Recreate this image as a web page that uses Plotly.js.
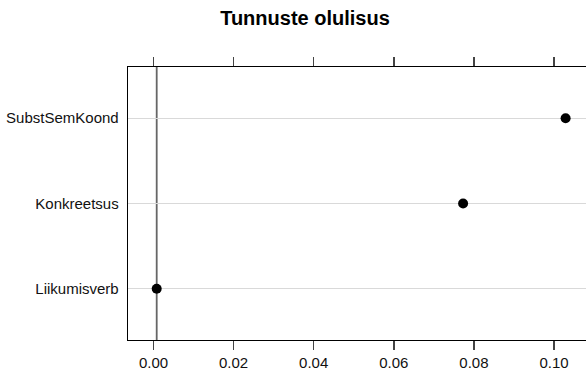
<!DOCTYPE html>
<html>
<head>
<meta charset="utf-8">
<script src="https://cdn.plot.ly/plotly-3.0.1.min.js"></script>
<style>html,body{margin:0;padding:0;overflow:hidden;background:#fff}</style>
</head>
<body>
<div id="chart" style="width:586px;height:371px"></div>
<script>
// Data (variable importance)
const features = ["Liikumisverb", "Konkreetsus", "SubstSemKoond"];
const importance = [0.0008, 0.0773, 0.1029];
const xTickVals = [0, 0.02, 0.04, 0.06, 0.08, 0.10];
const xTickText = ["0.00", "0.02", "0.04", "0.06", "0.08", "0.10"];
const chartTitle = "Tunnuste olulisus";

const FONT = '"Liberation Sans", Arial, Helvetica, sans-serif';

const trace = {
  type: "scatter",
  mode: "markers",
  x: importance,
  y: features,
  marker: {color: "#000", size: 10},
  hoverinfo: "x+y",
  cliponaxis: false
};

const layout = {
  width: 586, height: 371,
  margin: {l: 128, r: 0, t: 67, b: 31, pad: 0},
  paper_bgcolor: "#fff", plot_bgcolor: "#fff",
  showlegend: false,
  font: {family: FONT, color: "#111", size: 15},
  title: {
    text: "<b>" + chartTitle + "</b>",
    font: {family: FONT, size: 20, color: "#000"},
    x: 305 / 586, xref: "container", xanchor: "center",
    y: 1 - 17.5 / 371, yref: "container", yanchor: "middle"
  },
  xaxis: {
    range: [-0.006367, 0.10799],
    tickvals: xTickVals, ticktext: xTickText,
    ticks: "outside", ticklen: 9, tickwidth: 1.5, tickcolor: "#444",
    showline: true, linecolor: "#000", linewidth: 1.3,
    mirror: "ticks",
    showgrid: false, zeroline: false,
    tickfont: {family: FONT, size: 15, color: "#111"}
  },
  yaxis: {
    type: "category",
    categoryorder: "array", categoryarray: features,
    range: [-0.6, 2.6],
    showline: true, linecolor: "#000", linewidth: 1.3, mirror: false,
    ticks: "outside", ticklen: 5, tickcolor: "rgba(0,0,0,0)",
    showgrid: true, gridcolor: "#d9d9d9", gridwidth: 1,
    zeroline: false,
    tickfont: {family: FONT, size: 15, color: "#111"}
  },
  shapes: [{
    type: "line", xref: "x", yref: "paper",
    x0: Math.min(...importance), x1: Math.min(...importance), y0: 0, y1: 1,
    line: {color: "#666", width: 1.8},
    layer: "below"
  }]
};

Plotly.newPlot("chart", [trace], layout, {displayModeBar: false, staticPlot: true});
</script>
</body>
</html>
